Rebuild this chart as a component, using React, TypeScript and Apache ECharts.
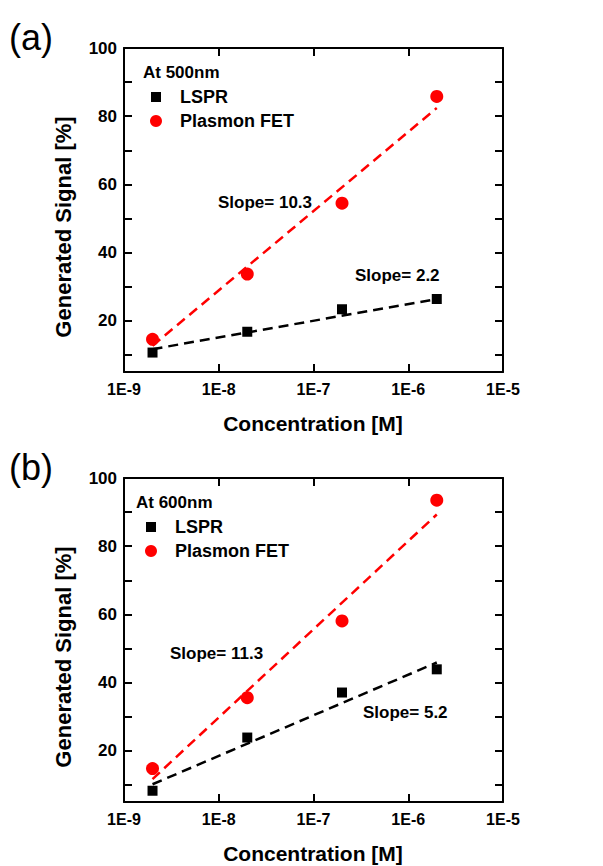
import React, { useEffect, useRef } from "react";
import * as echarts from "echarts";

const concentrations = [2e-9, 2e-8, 2e-7, 2e-6];
const lspr500 = [10.7, 16.8, 23.4, 26.4];
const fet500 = [14.6, 33.7, 54.5, 85.8];
const lspr600 = [8.3, 23.9, 37.1, 43.9];
const fet600 = [14.8, 35.6, 58.1, 93.5];

const fitX = [2e-9, 2e-6];
const fitLspr500 = [11.7, 26.4];
const fitFet500 = [12.7, 82.4];
const fitLspr600 = [10.2, 45.9];
const fitFet600 = [11.7, 89.3];

const yLabelValues = [20, 40, 60, 80, 100];
const yTickValues = [10, 20, 30, 40, 50, 60, 70, 80, 90, 100];

const FONT = "Liberation Sans, Arial, sans-serif";
const RED = "#ff0000";
const BLACK = "#000000";

const pairs = (xs: number[], ys: number[]) => xs.map((x, i) => [x, ys[i]]);

export default function App() {
  const ref = useRef<HTMLDivElement>(null);
  useEffect(() => {
    if (!ref.current) return;
    const chart = echarts.init(ref.current, null, { renderer: "svg" });
    const grids = [
      { left: 124, top: 48, width: 379, height: 324 },
      { left: 124, top: 478, width: 379, height: 324 },
    ];
    const axisLine = { show: true, onZero: false, lineStyle: { color: BLACK, width: 2 } };
    const xAxes: any[] = [];
    const yAxes: any[] = [];
    grids.forEach((_, g) => {
      xAxes.push({
        type: "log", gridIndex: g, position: "bottom", min: 1e-9, max: 1e-5, logBase: 10,
        axisLine, splitLine: { show: false },
        axisTick: { show: true, inside: true, length: 8, lineStyle: { width: 2, color: BLACK } },
        axisLabel: {
          show: true, margin: 9, color: BLACK, fontFamily: FONT, fontWeight: "bold", fontSize: 16,
          formatter: (v: number) => "1E" + Math.round(Math.log10(v)),
        },
      });
      xAxes.push({
        type: "log", gridIndex: g, position: "top", min: 1e-9, max: 1e-5, logBase: 10,
        axisLine, splitLine: { show: false },
        axisTick: { show: true, inside: true, length: 8, lineStyle: { width: 2, color: BLACK } },
        axisLabel: { show: false },
      });
      yAxes.push({
        type: "value", gridIndex: g, position: "left", min: 5, max: 100,
        axisLine, splitLine: { show: false },
        axisTick: { show: true, inside: true, length: 8, customValues: yTickValues, lineStyle: { width: 2, color: BLACK } },
        axisLabel: {
          show: true, margin: 7, color: BLACK, fontFamily: FONT, fontWeight: "bold", fontSize: 17,
          customValues: yLabelValues,
        },
      });
      yAxes.push({
        type: "value", gridIndex: g, position: "right", min: 5, max: 100,
        axisLine, splitLine: { show: false },
        axisTick: { show: true, inside: true, length: 8, customValues: yTickValues, lineStyle: { width: 2, color: BLACK } },
        axisLabel: { show: false },
      });
    });

    const panels = [
      { lspr: lspr500, fet: fet500, fl: fitLspr500, ff: fitFet500 },
      { lspr: lspr600, fet: fet600, fl: fitLspr600, ff: fitFet600 },
    ];
    const series: any[] = [];
    panels.forEach((p, g) => {
      const xi = g * 2;
      const yi = g * 2;
      series.push({
        type: "line", xAxisIndex: xi, yAxisIndex: yi, data: pairs(fitX, p.fl), symbol: "none",
        lineStyle: { color: BLACK, width: 2.5, type: [10, 6] }, z: 2,
      });
      series.push({
        type: "line", xAxisIndex: xi, yAxisIndex: yi, data: pairs(fitX, p.ff), symbol: "none",
        lineStyle: { color: RED, width: 2.5, type: [10, 6] }, z: 2,
      });
      series.push({
        name: "LSPR", type: "scatter", xAxisIndex: xi, yAxisIndex: yi, data: pairs(concentrations, p.lspr),
        symbol: "rect", symbolSize: 10, itemStyle: { color: BLACK, opacity: 1 }, z: 3,
      });
      series.push({
        name: "Plasmon FET", type: "scatter", xAxisIndex: xi, yAxisIndex: yi, data: pairs(concentrations, p.fet),
        symbol: "circle", symbolSize: 13, itemStyle: { color: RED, opacity: 1 }, z: 3,
      });
    });

    const txt = (x: number, y: number, text: string, size: number, extra: any = {}) => ({
      type: "text", x, y,
      style: {
        text, fill: BLACK, font: `bold ${size}px ${FONT}`, textAlign: "left", textVerticalAlign: "middle",
        ...extra,
      },
    });

    const graphic: any[] = [];
    const panelMeta = [
      { off: 0, label: "(a)", at: "At 500nm", atX: 143, mx: 156, tx: 180, slopes: [
        { x: 218, y: 202, t: "Slope= 10.3" }, { x: 355, y: 275, t: "Slope= 2.2" }] },
      { off: 430, label: "(b)", at: "At 600nm", atX: 136, mx: 151, tx: 175, slopes: [
        { x: 170, y: 223, t: "Slope= 11.3" }, { x: 363, y: 282, t: "Slope= 5.2" }] },
    ];
    panelMeta.forEach((m) => {
      graphic.push({
        type: "text", x: 9, y: m.off + 37,
        style: { text: m.label, fill: BLACK, font: `normal 36px ${FONT}`, textAlign: "left", textVerticalAlign: "middle" },
      });
      graphic.push(txt(m.atX, m.off + 72, m.at, 17));
      graphic.push({ type: "rect", shape: { x: m.mx - 5, y: m.off + 97 - 5, width: 10, height: 10 }, style: { fill: BLACK } });
      graphic.push(txt(m.tx, m.off + 97, "LSPR", 18));
      graphic.push({ type: "circle", shape: { cx: m.mx, cy: m.off + 121, r: 6 }, style: { fill: RED } });
      graphic.push(txt(m.tx, m.off + 121, "Plasmon FET", 18));
      m.slopes.forEach((s) => graphic.push(txt(s.x, m.off + s.y, s.t, 17)));
      graphic.push(txt(313, m.off + 423, "Concentration [M]", 21, { textAlign: "center" }));
      graphic.push({
        type: "text", x: 63, y: m.off + 227, rotation: Math.PI / 2,
        style: { text: "Generated Signal [%]", fill: BLACK, font: `bold 22px ${FONT}`, textAlign: "center", textVerticalAlign: "middle" },
      });
    });

    chart.setOption({
      animation: false,
      backgroundColor: "#ffffff",
      grid: grids,
      xAxis: xAxes,
      yAxis: yAxes,
      series,
      graphic,
    });
    return () => chart.dispose();
  }, []);
  return <div ref={ref} style={{ position: "fixed", left: 0, top: 0, width: 603, height: 866 }} />;
}
